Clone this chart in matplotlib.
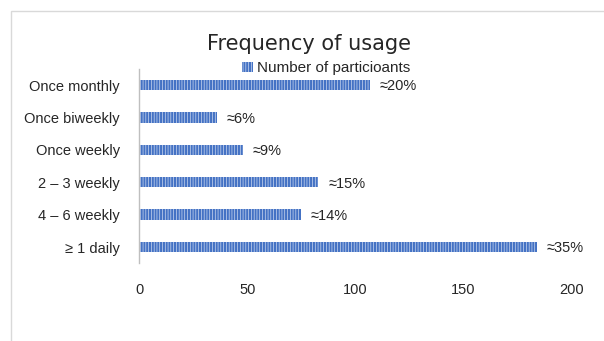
import matplotlib
matplotlib.use("Agg")
import matplotlib.pyplot as plt
from matplotlib.patches import Rectangle

plt.rcParams['font.family'] = ['Liberation Sans', 'DejaVu Sans']
plt.rcParams['hatch.linewidth'] = 0.45

categories = ["≥ 1 daily", "4 – 6 weekly", "2 – 3 weekly", "Once weekly", "Once biweekly", "Once monthly"]
values = [184, 75, 83, 48, 36, 107]
pct_labels = ["≈35%", "≈14%", "≈15%", "≈9%", "≈6%", "≈20%"]
xticks = [0, 50, 100, 150, 200]
series_name = "Number of particioants"
title = "Frequency of usage"

fig = plt.figure(figsize=(6.04, 3.41), dpi=100)
ax = fig.add_axes([0.2305, 0.228, 0.715, 0.57])

blue = '#4472C4'
bars = ax.barh(categories, values, height=0.32, color=blue, edgecolor='#DCE5F5',
               linewidth=0, hatch='||||||', label=series_name)

for b, lab in zip(bars, pct_labels):
    ax.annotate(lab, (b.get_width(), b.get_y() + b.get_height() / 2),
                xytext=(7, -1), textcoords='offset points', va='center', ha='left',
                fontsize=10.5, color='#262626')

ax.set_xlim(0, 200)
ax.set_ylim(-0.5, len(categories) - 0.5)
ax.set_xticks(xticks)
ax.tick_params(axis='both', length=0, labelsize=10.5, colors='#262626')
ax.tick_params(axis='x', pad=14)
ax.tick_params(axis='y', pad=14)
for s in ['top', 'right', 'bottom']:
    ax.spines[s].set_visible(False)
ax.spines['left'].set_color('#BFBFBF')
ax.spines['left'].set_linewidth(1.0)

fig.text(0.512, 0.87, title, ha='center', va='center', fontsize=15,
         family=['DejaVu Sans'], color='#262626')
leg = fig.legend(loc='center', bbox_to_anchor=(0.54, 0.80), frameon=False,
                 fontsize=11, handlelength=0.7, handleheight=0.7, handletextpad=0.3,
                 borderpad=0, labelcolor='#262626')

fig.patches.append(Rectangle((11 / 604, -0.2), 1.2, 1.2 - 11 / 341, transform=fig.transFigure,
                             fill=False, edgecolor='#D9D9D9', linewidth=1.0))

fig.savefig('out.png', dpi=100)
